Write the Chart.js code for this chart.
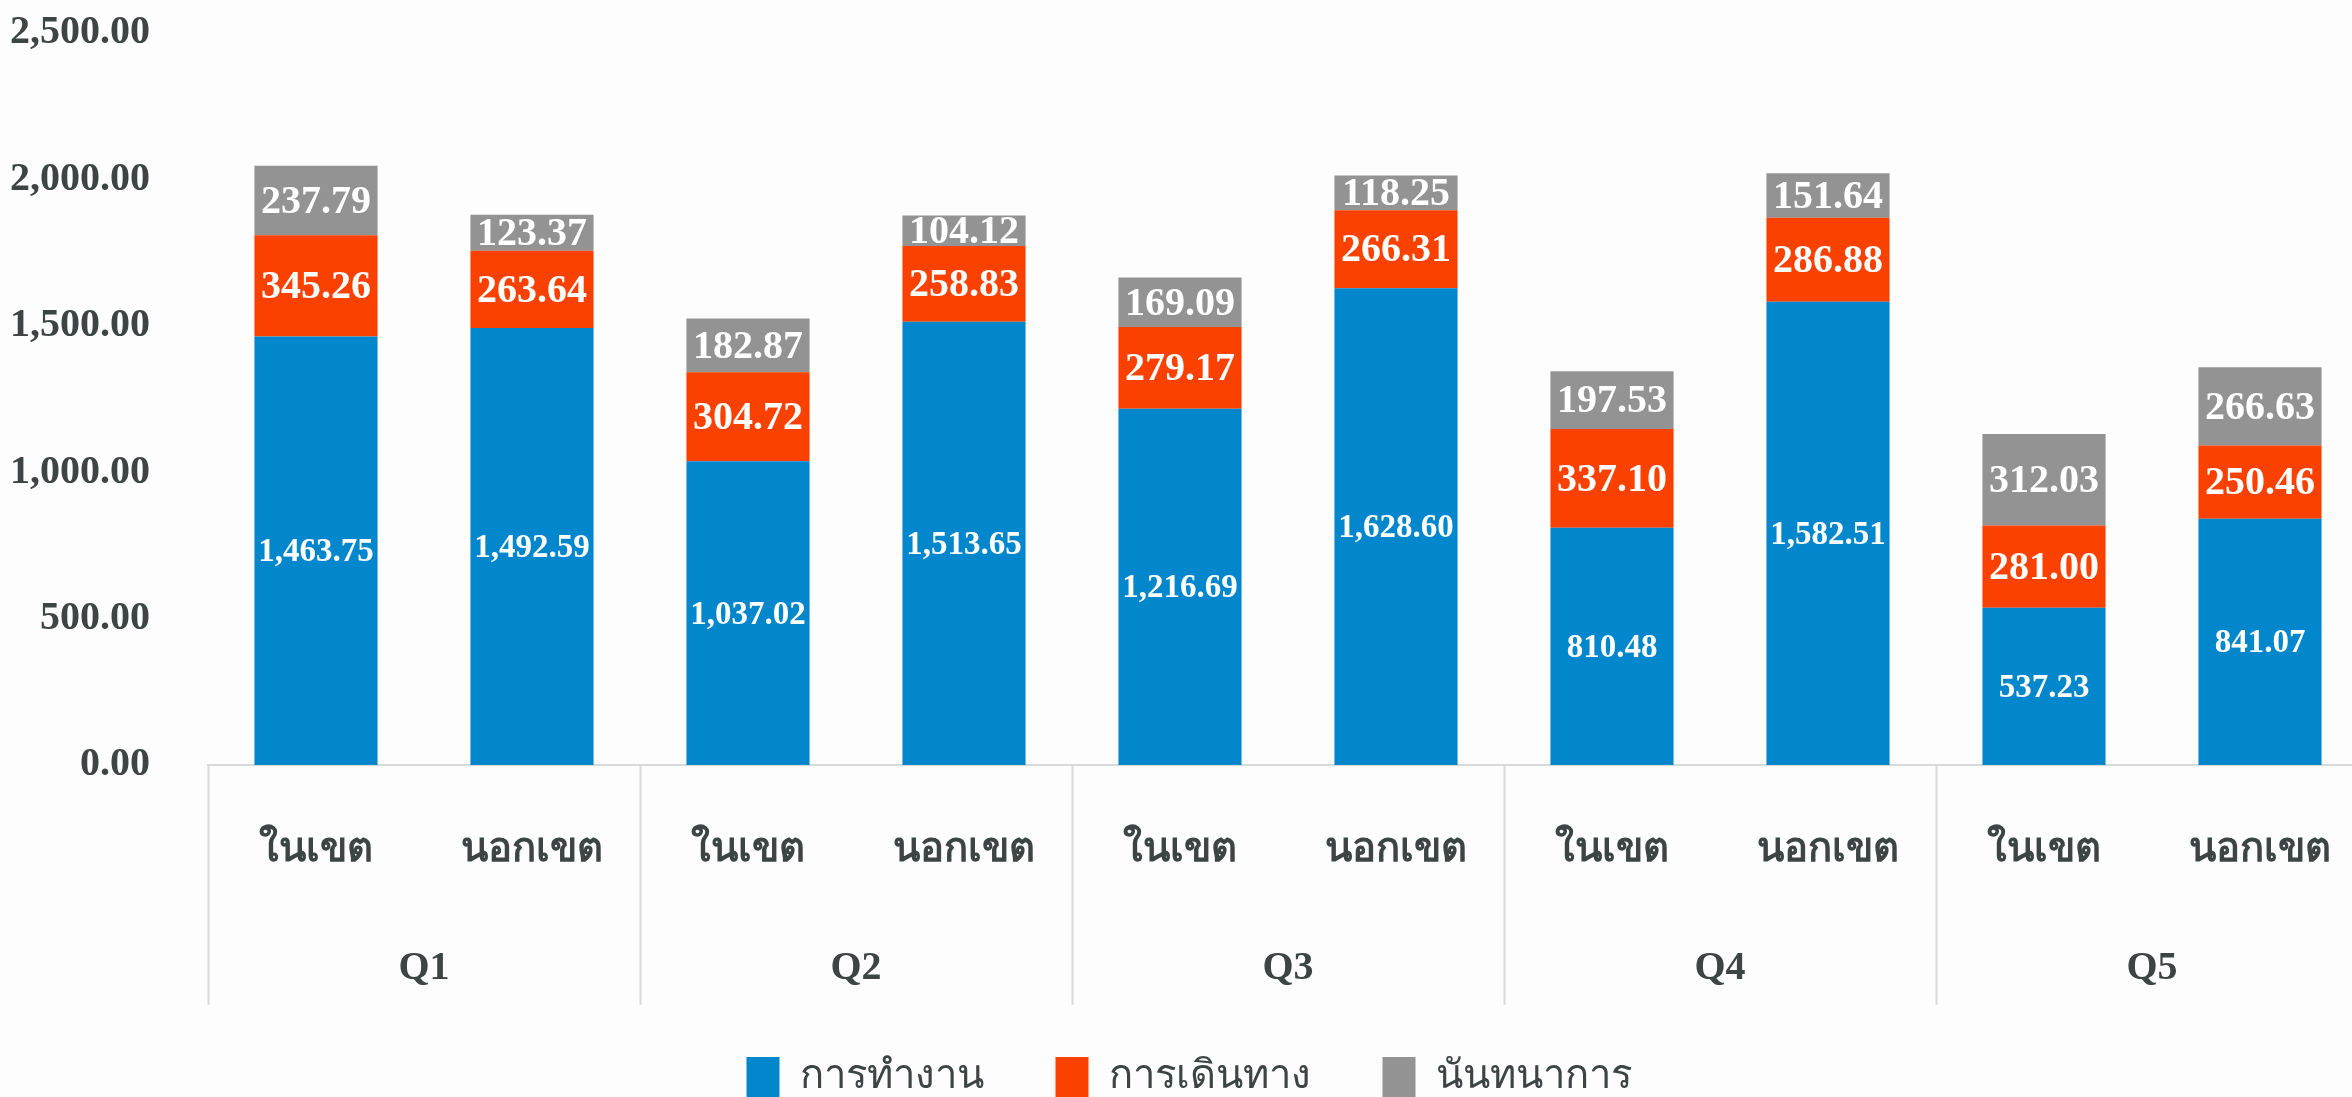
<!DOCTYPE html>
<html>
<head>
<meta charset="utf-8">
<script src="https://cdn.jsdelivr.net/npm/chart.js@4/dist/chart.umd.min.js"></script>
<style>
    html, body { margin: 0; padding: 0; background: #fdfdfd; overflow: hidden; }
    #wrap { position: absolute; left: 0; top: 0; width: 2368px; height: 1097px; }
</style>
</head>
<body>
<div id="wrap"><canvas id="travel-chart"></canvas></div>
<script>
const categories = ['ในเขต', 'นอกเขต', 'ในเขต', 'นอกเขต', 'ในเขต', 'นอกเขต', 'ในเขต', 'นอกเขต', 'ในเขต', 'นอกเขต'];
const groups = ['Q1', 'Q2', 'Q3', 'Q4', 'Q5'];
const seriesNames = ['การทำงาน', 'การเดินทาง', 'นันทนาการ'];
const work = [1463.75, 1492.59, 1037.02, 1513.65, 1216.69, 1628.60, 810.48, 1582.51, 537.23, 841.07];
const travel = [345.26, 263.64, 304.72, 258.83, 279.17, 266.31, 337.10, 286.88, 281.00, 250.46];
const leisure = [237.79, 123.37, 182.87, 104.12, 169.09, 118.25, 197.53, 151.64, 312.03, 266.63];
const yTicks = [0, 500, 1000, 1500, 2000, 2500];

const serif = '"Liberation Serif", "Times New Roman", serif';
const textColor = '#3d4444';
const lineColor = '#d9d9d9';

function fmt(v) {
    return v.toLocaleString('en-US', { minimumFractionDigits: 2, maximumFractionDigits: 2 });
}

function noSidePadding(scale) {
    scale.paddingLeft = 0;
    scale.paddingRight = 0;
}

// white value labels in the middle of each segment
const segmentLabels = {
    id: 'segmentLabels',
    afterDatasetsDraw(chart) {
        const ctx = chart.ctx;
        ctx.save();
        ctx.fillStyle = '#ffffff';
        ctx.textAlign = 'center';
        ctx.textBaseline = 'middle';
        chart.data.datasets.forEach((ds, i) => {
            ctx.font = (i === 0 ? 'bold 33px ' : 'bold 40px ') + serif;
            chart.getDatasetMeta(i).data.forEach((bar, j) => {
                const p = bar.getProps(['x', 'y', 'base'], true);
                ctx.fillText(fmt(ds.data[j]), p.x, (p.y + p.base) / 2 + 2);
            });
        });
        ctx.restore();
    },
};

// vertical separators between the Q groups below the axis
const groupDividers = {
    id: 'groupDividers',
    afterDraw(chart) {
        const g = chart.scales.x2;
        const half = (g.getPixelForValue(1) - g.getPixelForValue(0)) / 2;
        const ctx = chart.ctx;
        ctx.save();
        ctx.strokeStyle = lineColor;
        ctx.lineWidth = 2;
        for (let i = 0; i <= groups.length; i++) {
            const px = Math.round(g.getPixelForValue(0) - half + i * half * 2) + 0.5;
            ctx.beginPath();
            ctx.moveTo(px, chart.chartArea.bottom);
            ctx.lineTo(px, g.bottom + 20);
            ctx.stroke();
        }
        ctx.restore();
    },
};

const colors = ['#0287cd', '#fa4100', '#939393'];
const values = [work, travel, leisure];

new Chart(document.getElementById('travel-chart'), {
    type: 'bar',
    data: {
        labels: categories,
        datasets: seriesNames.map((name, i) => ({
            label: name,
            data: values[i],
            backgroundColor: colors[i],
            borderWidth: 0,
            barPercentage: 0.57,
            categoryPercentage: 1,
        })),
    },
    options: {
        responsive: true,
        maintainAspectRatio: false,
        animation: false,
        layout: {
            padding: { top: 0, left: 10, right: 0, bottom: -10 },
        },
        scales: {
            x: {
                stacked: true,
                weight: 0,
                grid: { display: false },
                border: { display: true, color: lineColor, width: 2 },
                ticks: {
                    color: textColor,
                    font: { family: serif, size: 40, weight: 'bold' },
                    padding: 54,
                    maxRotation: 0,
                    autoSkip: false,
                },
                afterFit(scale) {
                    scale.height = 102;
                    noSidePadding(scale);
                },
            },
            x2: {
                type: 'category',
                position: 'bottom',
                labels: groups,
                offset: true,
                weight: 1,
                grid: { display: false },
                border: { display: false },
                ticks: {
                    color: textColor,
                    font: { family: serif, size: 40, weight: 'bold' },
                    padding: 70,
                    maxRotation: 0,
                },
                afterFit(scale) {
                    scale.height = 118;
                    noSidePadding(scale);
                },
            },
            y: {
                stacked: true,
                min: yTicks[0],
                max: yTicks[yTicks.length - 1],
                afterBuildTicks(scale) {
                    scale.ticks = yTicks.map((v) => ({ value: v }));
                },
                grid: { display: false, drawTicks: false },
                border: { display: false },
                ticks: {
                    color: textColor,
                    font: { family: serif, size: 40, weight: 'bold' },
                    padding: 58,
                    callback: (v) => fmt(v),
                },
                afterFit(scale) {
                    scale.width = 198;
                    scale.paddingTop = 33;
                    scale.paddingBottom = 0;
                },
            },
        },
        plugins: {
            legend: {
                position: 'bottom',
                labels: {
                    color: textColor,
                    font: { family: serif, size: 40 },
                    boxWidth: 33,
                    boxHeight: 40,
                    padding: 72,
                },
            },
            tooltip: { enabled: false },
        },
    },
    plugins: [segmentLabels, groupDividers],
});
</script>
</body>
</html>
